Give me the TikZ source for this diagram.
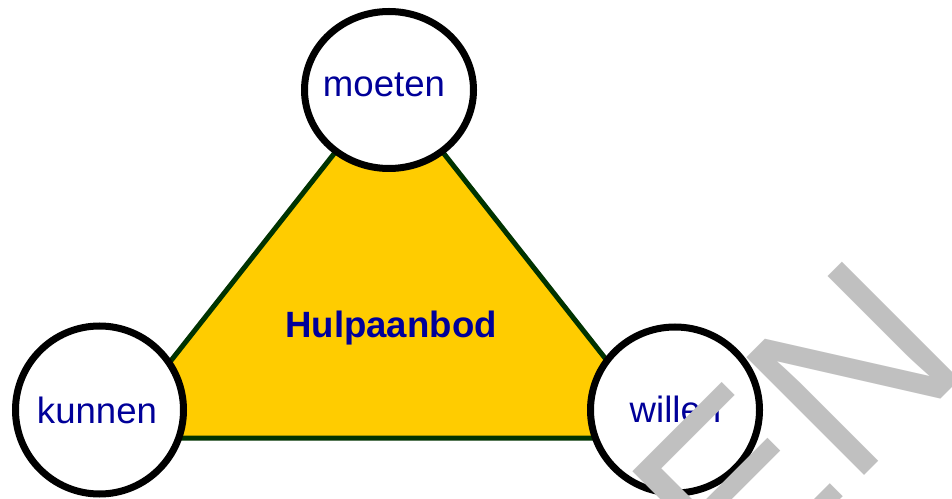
\documentclass[tikz,border=0pt]{standalone}
\usepackage{fontspec}
\setmainfont{Liberation Sans}
\definecolor{gold}{HTML}{FFCC00}
\definecolor{darkgreen}{HTML}{003300}
\definecolor{navytext}{HTML}{000099}
\definecolor{silver}{HTML}{C0C0C0}
\tikzset{
  ring/.style={draw=black, fill=white, line width=7pt},
  label/.style={text=navytext, inner sep=0pt, anchor=base,
    font=\fontsize{36.6}{40}\selectfont},
  title/.style={label, font=\fontsize{36.6}{40}\selectfont\bfseries},
  mark wm/.style={text=silver, inner sep=0pt, anchor=base west, rotate=45,
    font=\fontsize{242}{242}\selectfont}
}
\begin{document}
\begin{tikzpicture}[x=1pt,y=1pt]
  \useasboundingbox (0,0) rectangle (952,498);
  \fill[white] (0,0) rectangle (952,498);
  \clip (0,0) rectangle (952,498);

  % triangle
  \coordinate (apex) at (389,414);
  \coordinate (bl) at (110,60);
  \coordinate (br) at (668,60);
  \filldraw[fill=gold, draw=darkgreen, line width=5pt] (apex) -- (br) -- (bl) -- cycle;
  \node[title] (hulp) at (391,160.7) {Hulpaanbod};

  % corner circles
  \draw[ring] (389,408) ellipse [x radius=84.5, y radius=78.5];
  \draw[ring] (99.5,88) ellipse [x radius=84, y radius=84];
  \draw[ring] (675,88) ellipse [x radius=84.5, y radius=83];
  \coordinate (top) at (389,408);
  \coordinate (left) at (99.5,88);
  \coordinate (right) at (675,88);

  \node[label] (moeten) at (384,401) {moeten};
  \node[label] (kunnen) at (97,75) {kunnen};
  \node[label] (willen) at (675.5,76) {willen};

  % watermark
  \node[mark wm] (wm) at (736.6,-105.4) {EN};
\end{tikzpicture}
\end{document}
